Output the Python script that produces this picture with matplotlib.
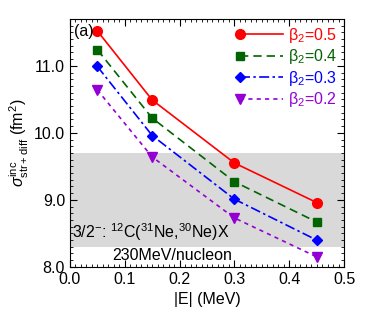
import matplotlib
matplotlib.use("Agg")
import matplotlib.pyplot as plt
from matplotlib.ticker import MultipleLocator
from matplotlib.legend_handler import HandlerLine2D

plt.rcParams["font.family"] = ["Liberation Sans", "DejaVu Sans"]
plt.rcParams["mathtext.fontset"] = "custom"
plt.rcParams["mathtext.rm"] = "Liberation Sans"
plt.rcParams["mathtext.it"] = "Liberation Sans:italic"

# |E| values (MeV) and cross sections (fm^2) per deformation
energy = [0.05, 0.15, 0.30, 0.45]
sigma_b05 = [11.52, 10.49, 9.55, 8.96]
sigma_b04 = [11.24, 10.22, 9.27, 8.67]
sigma_b03 = [10.99, 9.96, 9.01, 8.40]
sigma_b02 = [10.64, 9.64, 8.73, 8.15]
labels = ["β$_2$=0.5", "β$_2$=0.4", "β$_2$=0.3", "β$_2$=0.2"]

# experimental band
band_lo, band_hi = 8.30, 9.70


class MarkerFirstHandler(HandlerLine2D):
    # put the legend marker at the left end of the line, not the middle
    def create_artists(self, *args, **kwargs):
        artists = super().create_artists(*args, **kwargs)
        for a in artists:
            a.set_markevery([0])
        return artists


fig = plt.figure(figsize=(3.74, 3.2), dpi=100)
ax = fig.add_axes([0.187, 0.166, 0.733, 0.775])

ax.axhspan(band_lo, band_hi, color="#d9d9d9", lw=0, zorder=0)

series = [sigma_b05, sigma_b04, sigma_b03, sigma_b02]
colors = ["#ff0000", "#006400", "#0000ff", "#9400d3"]
styles = ["-", (0, (5, 3)), (0, (6, 2, 1.5, 2)), (0, (2.5, 2.5))]
markers = ["o", "s", "D", "v"]
msizes = [7, 5.5, 5.5, 6.5]

lines = []
for ys, c, ls, m, ms, lab in zip(series, colors, styles, markers, msizes, labels):
    ln, = ax.plot(energy, ys, color=c, ls=ls, marker=m, ms=ms, lw=1.2, label=lab)
    lines.append(ln)

ax.set_xlim(0.0, 0.5)
ax.set_ylim(8.0, 11.7)
ax.xaxis.set_major_locator(MultipleLocator(0.1))
ax.xaxis.set_minor_locator(MultipleLocator(0.01))
ax.yaxis.set_major_locator(MultipleLocator(1.0))
ax.yaxis.set_minor_locator(MultipleLocator(0.1))
ax.xaxis.set_major_formatter(plt.FormatStrFormatter("%.1f"))
ax.yaxis.set_major_formatter(plt.FormatStrFormatter("%.1f"))
ax.tick_params(which="both", direction="in", top=True, right=True, labelsize=11.5)
ax.tick_params(which="major", length=5, width=0.8)
ax.tick_params(which="minor", length=2.5, width=0.6)
for s in ax.spines.values():
    s.set_linewidth(0.8)

ax.set_xlabel("|E| (MeV)", fontsize=11.5)
ax.set_ylabel(r"$\sigma^{\rm inc}_{\rm str+diff}$ (fm$^2$)", fontsize=11.5, labelpad=2)

ax.text(0.008, 11.45, "(a)", fontsize=11.5)
ax.text(0.004, 8.43, r"3/2$^{-}$: $^{12}$C($^{31}$Ne,$^{30}$Ne)X", fontsize=11.5)
ax.text(0.186, 8.10, "230MeV/nucleon", fontsize=11.5, ha="center")

leg = ax.legend(handles=lines, loc="upper right", frameon=False, fontsize=11.5,
                handlelength=2.7, handletextpad=0.3, labelspacing=0.15,
                borderaxespad=0.05, numpoints=1,
                handler_map={ln: MarkerFirstHandler() for ln in lines})
for t, c in zip(leg.get_texts(), colors):
    t.set_color(c)

fig.savefig("out.png", dpi=100)
